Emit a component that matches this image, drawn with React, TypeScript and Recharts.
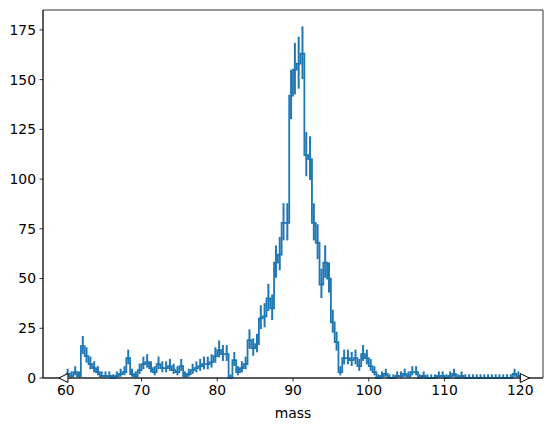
import React from 'react';
import { ComposedChart, Line, Scatter, ErrorBar, XAxis, YAxis, ReferenceArea } from 'recharts';

// histogram definition
const binStart = 60;
const binWidth = 0.5;
const counts = [
  2, 1, 3, 1, 16, 11, 7, 5, 3, 1,
  1, 1, 0, 1, 2, 3, 10, 2, 1, 4,
  7, 8, 5, 3, 7, 5, 5, 6, 4, 3,
  6, 1, 2, 4, 5, 6, 7, 7, 8, 11,
  14, 12, 12, 0, 9, 3, 5, 7, 19, 15,
  17, 30, 31, 40, 35, 58, 62, 78, 78, 142,
  155, 158, 163, 112, 110, 78, 68, 47, 58, 50,
  28, 18, 3, 10, 10, 9, 10, 6, 12, 10,
  6, 3, 0, 1, 2, 0, 0, 1, 1, 2,
  1, 3, 3, 0, 1, 0, 0, 0, 1, 1,
  0, 1, 2, 0, 1, 0, 0, 0, 0, 0,
  0, 0, 0, 0, 0, 0, 0, 0, 2, 1,
];
const xTicks = [60, 70, 80, 90, 100, 110, 120];
const yTicks = [0, 25, 50, 75, 100, 125, 150, 175];
const xDomain = [57, 123];
const yDomain = [0, 185];
const xLabel = 'mass';
const underflowMarker = [{ x: 59.7, y: 0 }];
const overflowMarker = [{ x: 120.6, y: 0 }];

const COLOR = '#1f77b4';
const FONT = { fontFamily: 'DejaVu Sans', fontSize: 13.9, fill: '#000' };

const edges = counts.map((_, i) => binStart + i * binWidth);
const stepData = [
  ...counts.map((c, i) => ({ x: edges[i], y: c })),
  { x: binStart + counts.length * binWidth, y: counts[counts.length - 1] },
];
const errData = counts.map((c, i) => ({
  x: edges[i] + binWidth / 2,
  y: c,
  err: [c > 0 ? Math.sqrt(c - 0.25) : 0, 1 + Math.sqrt(c + 0.75)],
}));

const Nothing = () => <g />;
const LeftTri = (p: any) => (
  <path
    d={`M${p.cx - 4.5},${p.cy} L${p.cx + 4.5},${p.cy - 4.5} L${p.cx + 4.5},${p.cy + 4.5} Z`}
    fill="#fff"
    stroke="#000"
    strokeWidth={1}
  />
);
const RightTri = (p: any) => (
  <path
    d={`M${p.cx + 4.5},${p.cy} L${p.cx - 4.5},${p.cy - 4.5} L${p.cx - 4.5},${p.cy + 4.5} Z`}
    fill="#fff"
    stroke="#000"
    strokeWidth={1}
  />
);

export default function App() {
  return (
    <div style={{ width: 552, height: 432 }}>
      <ComposedChart width={552} height={432} margin={{ top: 2, right: 17, bottom: 0, left: 0 }}>
        <XAxis
          type="number"
          dataKey="x"
          domain={xDomain}
          ticks={xTicks}
          interval={0}
          height={62}
          tickSize={3.5}
          tickMargin={4}
          tick={FONT}
          tickLine={{ stroke: '#000', strokeWidth: 0.8 }}
          axisLine={{ stroke: '#000', strokeWidth: 0.8 }}
          label={{ value: xLabel, position: 'insideBottom', offset: 22, ...FONT }}
        />
        <YAxis
          type="number"
          domain={yDomain}
          ticks={yTicks}
          interval={0}
          width={35}
          tickSize={3.5}
          tickMargin={3.5}
          tick={FONT}
          tickLine={{ stroke: '#000', strokeWidth: 0.8 }}
          axisLine={{ stroke: '#000', strokeWidth: 0.8 }}
        />
        <ReferenceArea
          x1={xDomain[0]}
          x2={xDomain[1]}
          y1={yDomain[0]}
          y2={yDomain[1]}
          fill="none"
          fillOpacity={0}
          stroke="#000"
          strokeWidth={0.8}
          ifOverflow="visible"
        />
        <Line
          data={stepData}
          dataKey="y"
          type="stepAfter"
          stroke={COLOR}
          strokeWidth={1.8}
          dot={false}
          activeDot={false}
          isAnimationActive={false}
        />
        <Scatter data={errData} dataKey="y" shape={Nothing} isAnimationActive={false}>
          <ErrorBar dataKey="err" direction="y" width={0} stroke={COLOR} strokeWidth={2} isAnimationActive={false} />
        </Scatter>
        <Scatter data={underflowMarker} dataKey="y" shape={LeftTri} isAnimationActive={false} />
        <Scatter data={overflowMarker} dataKey="y" shape={RightTri} isAnimationActive={false} />
      </ComposedChart>
    </div>
  );
}
